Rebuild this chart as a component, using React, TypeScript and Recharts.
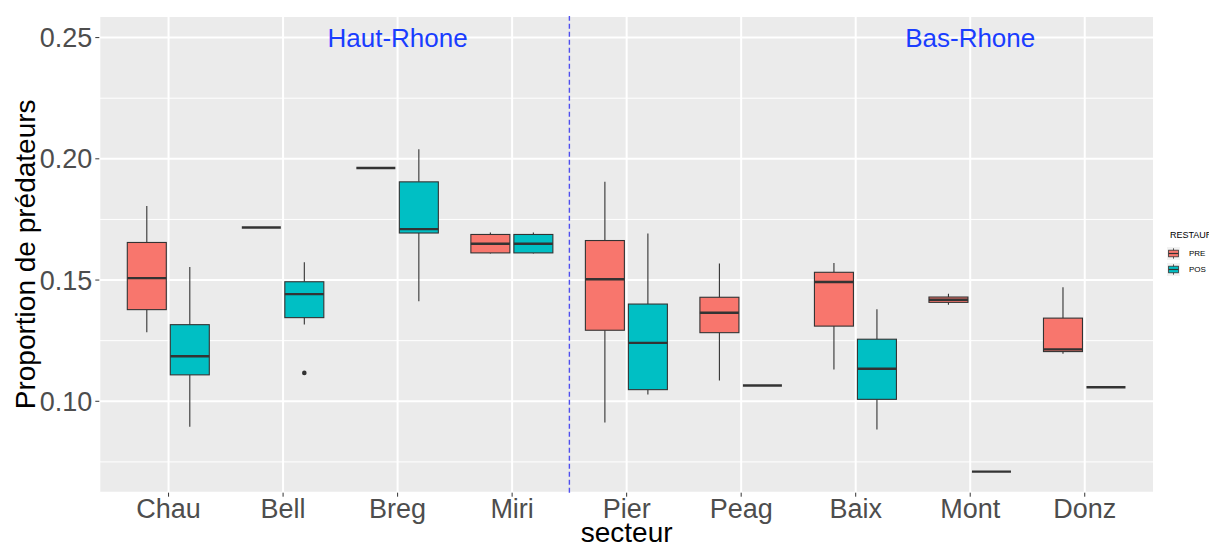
import { BarChart, Bar, XAxis, YAxis, CartesianGrid, ReferenceLine, ReferenceDot, Legend } from 'recharts'

// secteurs, amont -> aval
const sectors = ['Chau', 'Bell', 'Breg', 'Miri', 'Pier', 'Peag', 'Baix', 'Mont', 'Donz']
const seriesNames = ['PRE', 'POS']

// PRE restauration : moustaches, quartiles, médiane
const preMin = [0.1285, 0.1717, 0.1962, 0.1609, 0.0913, 0.1086, 0.1131, 0.1398, 0.1196]
const preQ1 = [0.1378, 0.1717, 0.1962, 0.1612, 0.1293, 0.1283, 0.131, 0.1408, 0.1205]
const preMed = [0.1508, 0.1717, 0.1962, 0.165, 0.1503, 0.1365, 0.1492, 0.1419, 0.1214]
const preQ3 = [0.1655, 0.1717, 0.1962, 0.1688, 0.1663, 0.1429, 0.1532, 0.143, 0.1343]
const preMax = [0.1805, 0.1717, 0.1962, 0.1696, 0.1905, 0.1568, 0.157, 0.1444, 0.147]
const preOut: number[][] = [[], [], [], [], [], [], [], [], []]

// POS restauration
const posMin = [0.0895, 0.1317, 0.1413, 0.1609, 0.1028, 0.1065, 0.0884, 0.071, 0.1058]
const posQ1 = [0.1109, 0.1345, 0.1694, 0.1612, 0.1048, 0.1065, 0.1008, 0.071, 0.1058]
const posMed = [0.1186, 0.1442, 0.171, 0.165, 0.1241, 0.1065, 0.1134, 0.071, 0.1058]
const posQ3 = [0.1316, 0.1493, 0.1905, 0.1688, 0.1401, 0.1065, 0.1256, 0.071, 0.1058]
const posMax = [0.1554, 0.1573, 0.2039, 0.1696, 0.1692, 0.1065, 0.138, 0.071, 0.1058]
const posOut: number[][] = [[], [0.1117], [], [], [], [], [], [], []]

const yTicks = [0.1, 0.15, 0.2, 0.25]
const yMinorTicks = [0.075, 0.125, 0.175, 0.225]
const Y_MIN = 0.0623
const Y_MAX = 0.2589

const PRE_COLOR = '#F8766D'
const POS_COLOR = '#00BFC4'
const FONT = '"Liberation Sans", Arial, sans-serif'

type Stats = { min: number; q1: number; med: number; q3: number; max: number; out: number[] }

const data = sectors.map((sector, i) => ({
  sector,
  pre: { min: preMin[i], q1: preQ1[i], med: preMed[i], q3: preQ3[i], max: preMax[i], out: preOut[i] } as Stats,
  pos: { min: posMin[i], q1: posQ1[i], med: posMed[i], q3: posQ3[i], max: posMax[i], out: posOut[i] } as Stats,
}))

const topOf = (s: Stats) => Math.max(s.max, ...s.out)

// the bar spans [Y_MIN, top]; its pixel geometry gives the y scale for the box parts
function makeBoxShape(key: 'pre' | 'pos', fill: string) {
  return (props: any) => {
    const { x, y, width, height, payload } = props
    const s: Stats = payload[key]
    const top = topOf(s)
    const k = height / (top - Y_MIN)
    const py = (v: number) => y + (top - v) * k
    const cx = x + width / 2
    return (
      <g>
        <line x1={cx} x2={cx} y1={py(s.max)} y2={py(s.q3)} stroke='#333333' strokeWidth={1.1} />
        <line x1={cx} x2={cx} y1={py(s.q1)} y2={py(s.min)} stroke='#333333' strokeWidth={1.1} />
        <rect x={x} y={py(s.q3)} width={width} height={py(s.q1) - py(s.q3)} fill={fill} stroke='#333333' strokeWidth={1.1} />
        <line x1={x} x2={x + width} y1={py(s.med)} y2={py(s.med)} stroke='#333333' strokeWidth={2.4} />
        {s.out.map((o, j) => (
          <circle key={j} cx={cx} cy={py(o)} r={2.3} fill='#333333' />
        ))}
      </g>
    )
  }
}

function LegendBox({ payload }: any) {
  const items = seriesNames
    .map((n) => (payload || []).find((p: any) => p.value === n))
    .filter(Boolean)
  return (
    <div style={{ position: 'relative', width: 55, height: 52, fontFamily: FONT }}>
      <div style={{ position: 'absolute', left: 16, top: 2, fontSize: 9, lineHeight: '11px', whiteSpace: 'nowrap', color: '#000' }}>
        RESTAURATION
      </div>
      {items.map((p: any, i: number) => (
        <div key={p.value} style={{ position: 'absolute', left: 13, top: 18.5 + i * 16, height: 13 }}>
          <svg width={13} height={13} style={{ position: 'absolute', left: 0, top: 0 }}>
            <rect x={0} y={0} width={13} height={13} fill='#F2F2F2' />
            <line x1={6.5} x2={6.5} y1={1.3} y2={11.7} stroke='#333333' strokeWidth={0.8} />
            <rect x={1.6} y={3.2} width={9.8} height={6.6} fill={p.color} stroke='#333333' strokeWidth={0.8} />
            <line x1={1.6} x2={11.4} y1={6.5} y2={6.5} stroke='#333333' strokeWidth={1.2} />
          </svg>
          <span style={{ position: 'absolute', left: 22, top: 2, fontSize: 8, lineHeight: '9px', color: '#000', whiteSpace: 'nowrap' }}>{p.value}</span>
        </div>
      ))}
    </div>
  )
}

function XTitle({ viewBox }: any) {
  const { x, y, width, height } = viewBox
  return (
    <text x={x + width / 2} y={y + height - 3} textAnchor='middle' fontSize={28} fill='#000' fontFamily={FONT}>
      secteur
    </text>
  )
}

export default function App() {
  return (
    <div style={{ position: 'absolute', left: 0, top: 0, width: 1209, height: 545, overflow: 'hidden', fontFamily: FONT, background: '#fff' }}>
      <BarChart width={1209} height={545} data={data} margin={{ top: 16, right: 0, bottom: 0, left: 0 }} barSize={39} barGap={4}>
        <CartesianGrid fill='#EBEBEB' stroke='#FFFFFF' strokeWidth={2} />
        <CartesianGrid fill='none' stroke='#FFFFFF' strokeWidth={1} vertical={false} horizontalValues={yMinorTicks} />
        <XAxis
          dataKey='sector'
          padding={{ left: 12, right: 12 }}
          height={52.3}
          axisLine={false}
          tickLine={{ stroke: '#333333', strokeWidth: 1 }}
          tickSize={4}
          tickMargin={2}
          tick={{ fontSize: 27, fill: '#4D4D4D' }}
          interval={0}
          label={<XTitle />}
        />
        <YAxis
          type='number'
          domain={[Y_MIN, Y_MAX]}
          allowDataOverflow
          ticks={yTicks}
          tickFormatter={(v) => Number(v).toFixed(2)}
          width={99.3}
          axisLine={false}
          tickLine={{ stroke: '#333333', strokeWidth: 1 }}
          tickSize={4}
          tickMargin={3}
          tick={{ fontSize: 27, fill: '#4D4D4D' }}
          label={{ value: 'Proportion de prédateurs', angle: -90, position: 'insideLeft', offset: 25, fontSize: 28, fill: '#000', style: { textAnchor: 'middle' } }}
        />
        <Legend layout='vertical' align='right' verticalAlign='top' wrapperStyle={{ top: 228, right: 0 }} content={<LegendBox />} />
        <ReferenceLine x='Miri' position='end' stroke='#5050f0' strokeWidth={1.4} strokeDasharray='5 3' />
        <ReferenceDot x='Breg' y={0.25} r={0} fill='none' stroke='none' label={{ value: 'Haut-Rhone', position: 'center', fontSize: 26, fill: '#1a3dff' }} />
        <ReferenceDot x='Mont' y={0.25} r={0} fill='none' stroke='none' label={{ value: 'Bas-Rhone', position: 'center', fontSize: 26, fill: '#1a3dff' }} />
        <Bar name='PRE' dataKey={(d: any) => [Y_MIN, topOf(d.pre)]} fill={PRE_COLOR} shape={makeBoxShape('pre', PRE_COLOR)} isAnimationActive={false} />
        <Bar name='POS' dataKey={(d: any) => [Y_MIN, topOf(d.pos)]} fill={POS_COLOR} shape={makeBoxShape('pos', POS_COLOR)} isAnimationActive={false} />
      </BarChart>
    </div>
  )
}
